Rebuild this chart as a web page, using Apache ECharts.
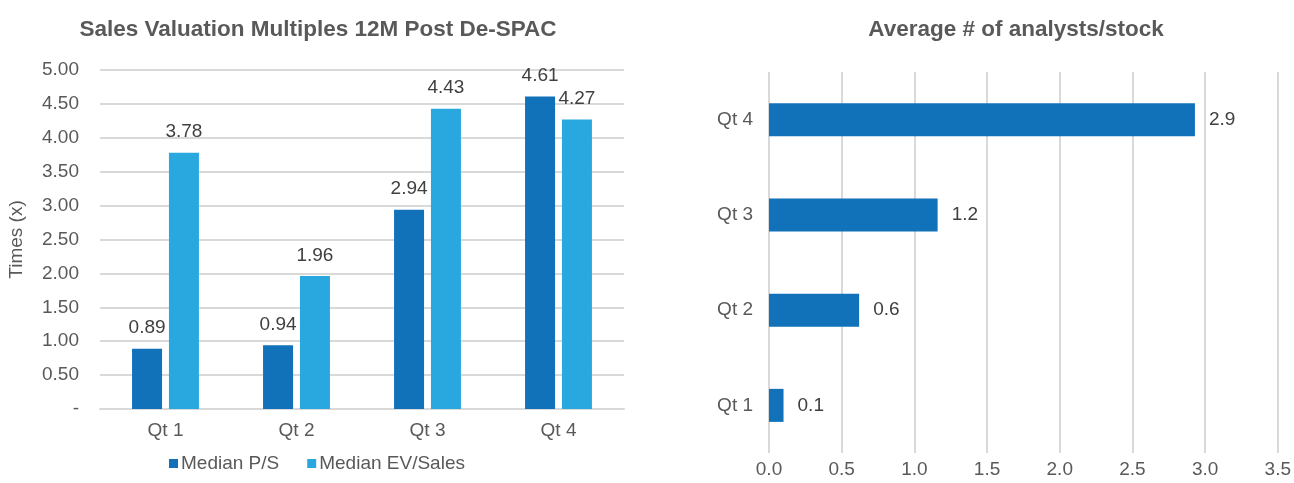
<!DOCTYPE html>
<html>
<head>
<meta charset="utf-8">
<script src="https://cdn.jsdelivr.net/npm/echarts@6/dist/echarts.min.js"></script>
<style>
  html, body { margin: 0; padding: 0; background: #fff; }
  #chart { width: 1294px; height: 483px; }
</style>
</head>
<body>
<div id="chart"></div>
<script>
// left chart: valuation multiples
const quarters = ['Qt 1', 'Qt 2', 'Qt 3', 'Qt 4']
const medianPS = [0.89, 0.94, 2.94, 4.61]
const medianEV = [3.78, 1.96, 4.43, 4.27]

// right chart: analysts per stock
const analysts = [0.1, 0.62, 1.16, 2.93]

const DARK = '#1172BA'
const LIGHT = '#29A8E0'
const TXT = '#595959'
const GRID = '#D9D9D9'
const FONT = '"Liberation Sans", Arial, sans-serif'
const FS = 19

const chart = echarts.init(document.getElementById('chart'))
chart.setOption({
  animation: false,
  textStyle: { fontFamily: FONT },
  title: [
    { text: 'Sales Valuation Multiples 12M Post De-SPAC', left: 313, top: 13, textAlign: 'center',
      textStyle: { fontSize: 22.5, fontWeight: 'bold', color: TXT, fontFamily: FONT } },
    { text: 'Average # of analysts/stock', left: 1011, top: 13, textAlign: 'center',
      textStyle: { fontSize: 22.5, fontWeight: 'bold', color: TXT, fontFamily: FONT } }
  ],
  legend: {
    bottom: 5, left: 164,
    itemWidth: 9, itemHeight: 9, itemGap: 28,
    icon: 'rect',
    textStyle: { fontSize: FS, color: TXT, padding: [0, 0, 0, -2] },
    data: ['Median P/S', 'Median EV/Sales']
  },
  grid: [
    { left: 100, right: 670, top: 70, bottom: 74 },
    { left: 769, right: 14, top: 72, bottom: 30 }
  ],
  xAxis: [
    {
      type: 'category', gridIndex: 0, data: quarters,
      axisLine: { lineStyle: { color: GRID, width: 2 } },
      axisTick: { show: false },
      axisLabel: { color: TXT, fontSize: FS, margin: 12 }
    },
    {
      type: 'value', gridIndex: 1, min: 0, max: 3.5, interval: 0.5,
      axisLine: { show: false }, axisTick: { show: false },
      splitLine: { lineStyle: { color: GRID, width: 2 } },
      axisLabel: { color: TXT, fontSize: FS, margin: 7, formatter: v => v.toFixed(1) }
    }
  ],
  yAxis: [
    {
      type: 'value', gridIndex: 0, min: 0, max: 5, interval: 0.5,
      name: 'Times (x)', nameLocation: 'middle', nameGap: 74,
      nameTextStyle: { color: TXT, fontSize: FS },
      axisLine: { show: false }, axisTick: { show: false },
      splitLine: { lineStyle: { color: GRID, width: 2 } },
      axisLabel: { color: TXT, fontSize: FS, margin: 21, formatter: v => v === 0 ? '-' : v.toFixed(2) }
    },
    {
      type: 'category', gridIndex: 1, data: quarters,
      axisLine: { show: false }, axisTick: { show: false },
      axisLabel: { color: TXT, fontSize: FS, margin: 16 }
    }
  ],
  series: [
    {
      name: 'Median P/S', type: 'bar', xAxisIndex: 0, yAxisIndex: 0,
      data: medianPS, barWidth: 30, barGap: '23%',
      itemStyle: { color: DARK },
      label: { show: true, position: 'top', distance: 11, color: '#404040', fontSize: FS,
        formatter: p => p.value.toFixed(2) }
    },
    {
      name: 'Median EV/Sales', type: 'bar', xAxisIndex: 0, yAxisIndex: 0,
      data: medianEV, barWidth: 30, barGap: '23%',
      itemStyle: { color: LIGHT },
      label: { show: true, position: 'top', distance: 11, color: '#404040', fontSize: FS,
        formatter: p => p.value.toFixed(2) }
    },
    {
      name: 'Analysts', type: 'bar', xAxisIndex: 1, yAxisIndex: 1,
      data: analysts, barWidth: 33,
      itemStyle: { color: DARK },
      label: { show: true, position: 'right', distance: 14, color: '#404040', fontSize: FS,
        formatter: p => p.value.toFixed(1) }
    }
  ]
})
</script>
</body>
</html>
